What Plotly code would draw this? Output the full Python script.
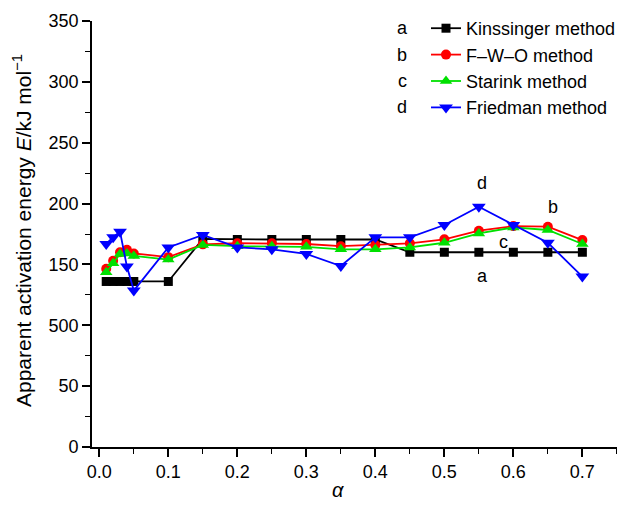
import plotly.graph_objects as go

alpha = [0.01, 0.02, 0.03, 0.04, 0.05, 0.1, 0.15, 0.2, 0.25, 0.3, 0.35, 0.4, 0.45, 0.5, 0.55, 0.6, 0.65, 0.7]
kissinger = [136, 136, 136, 136, 136, 136, 171, 170.5, 170.5, 170.5, 170.5, 170.5, 160, 160, 160, 160, 160, 160]
fwo = [146.5, 153, 160, 162, 159, 156, 166.5, 167.4, 167.4, 166.8, 165, 166, 167.3, 170.6, 177.7, 181.5, 181, 170]
starink = [143.5, 151, 158.5, 159, 157, 154, 166, 165, 165, 164.5, 162.4, 162.4, 164, 167.8, 175.5, 180.4, 178.3, 166.8]
friedman = [166.8, 172.3, 176.9, 148.2, 128.5, 164, 174.2, 164, 162.4, 158.6, 148.7, 172.3, 172.3, 182.4, 197.4, 182.4, 167.8, 140]

series_names = ["Kinssinger method", "F\u2013W\u2013O method", "Starink method", "Friedman method"]
series_letters = ["a", "b", "c", "d"]
series_values = [kissinger, fwo, starink, friedman]
colors = ["#000000", "#ff0000", "#00e000", "#0000ff"]
symbols = ["square", "circle", "triangle-up", "triangle-down"]
msizes = [9, 10, 11, 12]

yticks = [0, 50, 100, 150, 200, 250, 300, 350]
yticklabels = ["0", "50", "500", "150", "200", "250", "300", "350"]
xticks = [0.0, 0.1, 0.2, 0.3, 0.4, 0.5, 0.6, 0.7]
xticklabels = ["0.0", "0.1", "0.2", "0.3", "0.4", "0.5", "0.6", "0.7"]

# in-plot curve labels
curve_label_text = ["d", "b", "c", "a"]
curve_label_x = [0.555, 0.657, 0.585, 0.555]
curve_label_y = [216.6, 197.4, 168.7, 140.5]

FONT = "Liberation Sans, Arial, Helvetica, sans-serif"

fig = go.Figure()
for name, vals, col, sym, ms in zip(series_names, series_values, colors, symbols, msizes):
    fig.add_trace(go.Scatter(
        x=alpha, y=vals, mode="lines+markers", name=name,
        line=dict(color=col, width=1.8),
        marker=dict(color=col, symbol=sym, size=ms, line=dict(width=0)),
    ))

annotations = []
for t, x, y in zip(curve_label_text, curve_label_x, curve_label_y):
    annotations.append(dict(x=x, y=y, xref="x", yref="y", text=t, showarrow=False,
                            font=dict(size=18, color="black", family=FONT)))

# layout geometry (pixels)
plot_l, plot_r, plot_t, plot_b = 92, 617, 21, 447
pw, ph = plot_r - plot_l, plot_b - plot_t
legend_top_px = 10
row_h = 26.4
first_row_px = legend_top_px + 18.2
for i, letter in enumerate(series_letters):
    rpx = first_row_px + i * row_h
    annotations.append(dict(x=(402 - plot_l) / pw, y=(plot_b - rpx) / ph, xref="paper", yref="paper",
                            text=letter, showarrow=False, xanchor="center", yanchor="middle",
                            font=dict(size=18, color="black", family=FONT)))

# axis titles
annotations.append(dict(x=(22 - plot_l) / pw, y=(plot_b - 231) / ph, xref="paper", yref="paper",
                        text="Apparent activation energy <i>E</i>/kJ mol<sup>\u22121</sup>",
                        textangle=-90, showarrow=False, xanchor="center", yanchor="middle",
                        font=dict(size=21, color="black", family=FONT)))
annotations.append(dict(x=(338 - plot_l) / pw, y=(plot_b - 490) / ph, xref="paper", yref="paper",
                        text="<i>\u03b1</i>", showarrow=False, xanchor="center", yanchor="middle",
                        font=dict(size=20, color="black", family=FONT)))

fig.update_layout(
    width=621, height=505,
    margin=dict(l=plot_l, r=621 - plot_r, t=plot_t, b=505 - plot_b, autoexpand=False),
    paper_bgcolor="white", plot_bgcolor="white",
    font=dict(family=FONT, size=18, color="black"),
    showlegend=True,
    legend=dict(x=(426 - plot_l) / pw, y=(plot_b - legend_top_px) / ph, xanchor="left", yanchor="top",
                bgcolor="rgba(0,0,0,0)", font=dict(size=18, family=FONT),
                tracegroupgap=0, itemwidth=30),
    annotations=annotations,
    xaxis=dict(range=[-0.0106, 0.7502], tickvals=xticks, ticktext=xticklabels,
               showline=True, linecolor="black", linewidth=1.6, ticks="outside",
               ticklen=8, tickwidth=1.6, tickcolor="black", showgrid=False, zeroline=False,
               minor=dict(dtick=0.05, tick0=0, ticks="outside", ticklen=5, tickwidth=1.4, tickcolor="black", showgrid=False),
               tickfont=dict(size=18, family=FONT)),
    yaxis=dict(range=[0, 350], tickvals=yticks, ticktext=yticklabels,
               showline=True, linecolor="black", linewidth=1.6, ticks="outside",
               ticklen=8, tickwidth=1.6, tickcolor="black", showgrid=False, zeroline=False,
               minor=dict(dtick=25, tick0=0, ticks="outside", ticklen=5, tickwidth=1.4, tickcolor="black", showgrid=False),
               tickfont=dict(size=18, family=FONT)),
)

fig.write_html("out.html", config={"displayModeBar": False},
               post_script="document.body.style.margin='0';document.body.style.padding='0';")
